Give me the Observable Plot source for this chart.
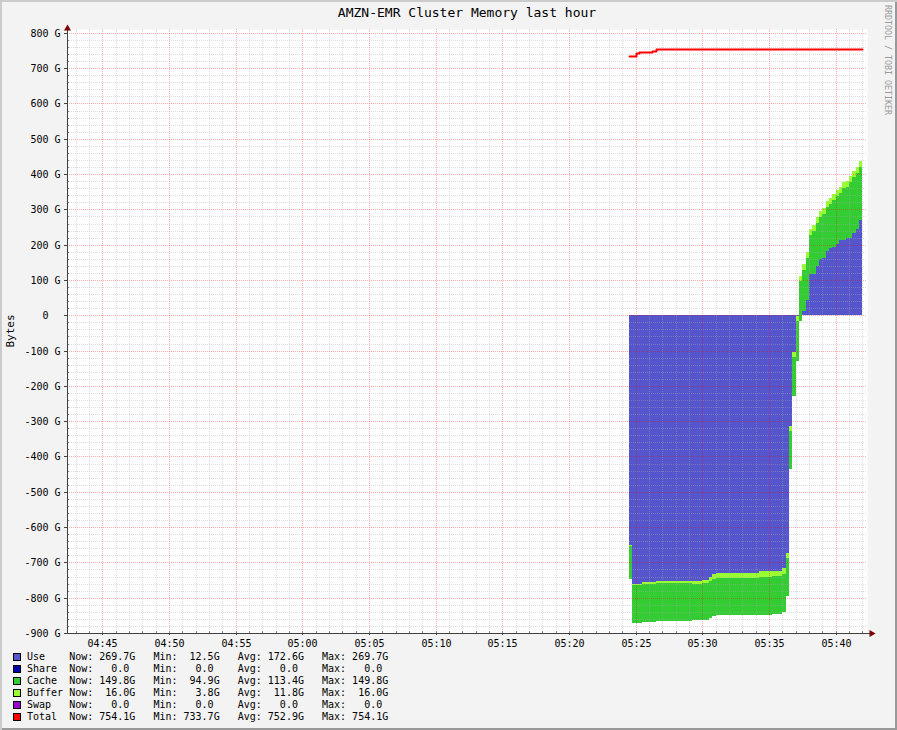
<!DOCTYPE html>
<html><head><meta charset="utf-8">
<script src="https://cdn.jsdelivr.net/npm/d3@7"></script>
<script src="https://cdn.jsdelivr.net/npm/@observablehq/plot@0.6"></script>
<style>
body{margin:0;background:#fff}
#wrap{position:relative;width:897px;height:730px;background:#f3f3f3;box-shadow:inset 2px 2px 0 #cbcbcb, inset -2px -2px 0 #999;overflow:hidden;font-family:"DejaVu Sans Mono",monospace;color:#000}
#title{position:absolute;left:67px;width:800px;top:5px;text-align:center;font-size:13px;line-height:16px;white-space:pre}
#chart{position:absolute;left:0;top:0}
#ylabel{position:absolute;left:11px;top:331px;transform:translate(-50%,-50%) rotate(-90deg);font-size:11px;line-height:12px;white-space:nowrap}
#wm{position:absolute;left:884px;top:5px;writing-mode:vertical-rl;font-size:8.3px;line-height:8px;color:#999;white-space:pre}
#legend{position:absolute;left:13px;top:651px;font-size:10px;line-height:12px}
.row{height:12px;white-space:pre;display:flex;align-items:center}
.sw{width:6px;height:6px;border:1px solid #000;margin-right:6px;flex:none}
</style>
</head><body>
<div id="wrap">
  <div id="chart"></div>
  <div id="title"></div>
  <div id="ylabel"></div>
  <div id="wm"></div>
  <div id="legend"></div>
</div>
<script>
// ---------- data (GB) ----------
const titleText = "AMZN-EMR Cluster Memory last hour";
const yLabel = "Bytes";
const watermark = "RRDTOOL / TOBI OETIKER";

const times = ["05:24:30","05:24:45","05:25:30","05:26:30","05:29:15","05:30:00","05:30:30","05:30:45","05:31:00","05:34:15",
  "05:35:15","05:36:00","05:36:15","05:36:30","05:36:45","05:37:00","05:37:15","05:37:30","05:37:45","05:38:00",
  "05:38:15","05:38:30","05:38:45","05:39:00","05:39:15","05:39:30","05:39:45","05:40:00","05:40:15","05:40:30",
  "05:40:45","05:41:00","05:41:15","05:41:30","05:41:45"];
const endTime = "05:42:00";
const useVals = [-748,-872,-869,-866,-864,-864,-858,-852,-850,-849,
  -847,-841,-796,-436,-229,-130,-17,12,43,117,
  117,140,160,162,182,190,193,201,212,212,
  218,218,233,244,270];
const cacheVals = [94,108,109,108,103,106,105,105,105,108,
  108,108,108,107,110,113,113,116,119,111,
  122,122,119,125,125,125,134,137,135,149,
  146,160,159,159,150];
const bufferVals = [4,4,5,6,8,8,12,14,16,16,
  16,16,16,16,16,16,16,16,16,16,
  16,16,16,16,16,16,16,16,16,16,
  16,16,16,16,16];

const totalTimes = ["05:24:30","05:25:00","05:25:15","05:26:15","05:26:30","05:42:00"];
const totalVals = [734,742,745,749,754.1,754.1];

const yTicks = [-900,-800,-700,-600,-500,-400,-300,-200,-100,0,100,200,300,400,500,600,700,800];
const xTickLabels = ["04:45","04:50","04:55","05:00","05:05","05:10","05:15","05:20","05:25","05:30","05:35","05:40"];

const legendNames = ["Use","Share","Cache","Buffer","Swap","Total"];
const legendColors = ["#5555cc","#0000aa","#33cc33","#99ff33","#9900cc","#ff0000"];
const legendNow = ["269.7G","0.0","149.8G","16.0G","0.0","754.1G"];
const legendMin = ["12.5G","0.0","94.9G","3.8G","0.0","733.7G"];
const legendAvg = ["172.6G","0.0","113.4G","11.8G","0.0","752.9G"];
const legendMax = ["269.7G","0.0","149.8G","16.0G","0.0","754.1G"];

// ---------- build ----------
const parse = s => { const [h,m,sec] = s.split(":").map(Number); return new Date(Date.UTC(2013,0,1,h,m,sec||0)); };
const t0 = parse("04:42:21"), t1 = parse("05:42:21");

const rows = times.map((t,i) => ({t: parse(t), u: useVals[i], c: cacheVals[i], b: bufferVals[i]}));
const last = rows[rows.length-1];
rows.push({...last, t: parse(endTime)});
const totalRows = totalTimes.map((t,i) => ({t: parse(t), v: totalVals[i]}));

const allMinutes = d3.utcMinute.range(d3.utcMinute.ceil(t0), t1);
const minorX = allMinutes.filter(d => d.getUTCMinutes() % 5 !== 0);
const majorX = xTickLabels.map(parse);
const minorY = d3.range(-900, 801, 20).filter(v => v % 100 !== 0);

const axisColor = "#404040";
const plot = Plot.plot({
  width: 897, height: 660,
  marginTop: 29, marginBottom: 27, marginLeft: 67, marginRight: 30,
  style: {fontFamily: "DejaVu Sans Mono", fontSize: "10px", background: "transparent", color: "#000", overflow: "visible"},
  x: {type: "utc", domain: [t0, t1], round: true},
  y: {domain: [-900, 811], round: true},
  marks: [
    Plot.frame({fill: "#fff", stroke: "none"}),
    Plot.areaY(rows, {x: "t", y: "u", curve: "step-after", fill: legendColors[0], shapeRendering: "crispEdges"}),
    Plot.areaY(rows, {x: "t", y1: d => d.u, y2: d => d.u + d.c, curve: "step-after", fill: legendColors[2], shapeRendering: "crispEdges"}),
    Plot.areaY(rows, {x: "t", y1: d => d.u + d.c, y2: d => d.u + d.c + d.b, curve: "step-after", fill: legendColors[3], shapeRendering: "crispEdges"}),
    Plot.gridX(minorX, {stroke: "#aaa", strokeOpacity: 0.4, strokeDasharray: "1,1"}),
    Plot.gridY(minorY, {stroke: "#aaa", strokeOpacity: 0.4, strokeDasharray: "1,1"}),
    Plot.gridX(majorX, {stroke: "#ff0000", strokeOpacity: 0.32, strokeDasharray: "1,1"}),
    Plot.gridY(yTicks, {stroke: "#ff0000", strokeOpacity: 0.32, strokeDasharray: "1,1"}),
    Plot.line(totalRows, {x: "t", y: "v", curve: "step-after", stroke: legendColors[5], strokeWidth: 2}),
    Plot.tickY(minorY, {y: d => d, insetRight: 798, stroke: "#888"}),
    Plot.tickX(allMinutes, {x: d => d, insetTop: 602, stroke: "#888"}),
    Plot.axisY(yTicks, {tickFormat: d => d === 0 ? "0\u00a0\u00a0" : d + " G", tickSize: 3, tickPadding: 4, stroke: axisColor, fill: "#000", label: null}),
    Plot.axisX(majorX, {tickFormat: d3.utcFormat("%H:%M"), tickSize: 2, tickPadding: 4, stroke: axisColor, fill: "#000", label: null}),
    Plot.ruleX([t0], {stroke: axisColor, insetTop: -2}),
    Plot.ruleY([-900], {stroke: axisColor, insetRight: -3}),
    Plot.dot([0], {x: () => t0, y: () => 811, symbol: "triangle", r: 2.6, fill: "#7f0000", stroke: "none", dy: -1}),
    Plot.dot([0], {x: () => t1, y: () => -900, symbol: "triangle", rotate: 90, r: 2.6, fill: "#7f0000", stroke: "none", dx: 4})
  ]
});
document.getElementById("chart").append(plot);
document.getElementById("title").textContent = titleText;
document.getElementById("ylabel").textContent = yLabel;
document.getElementById("wm").textContent = watermark;

const f = v => v.endsWith("G") ? v.padStart(7) : (v + " ").padStart(7);
const leg = document.getElementById("legend");
legendNames.forEach((n, i) => {
  const row = document.createElement("div");
  row.className = "row";
  const sw = document.createElement("span");
  sw.className = "sw";
  sw.style.background = legendColors[i];
  const tx = document.createElement("span");
  tx.textContent = n.padEnd(7) + "Now:" + f(legendNow[i]) + "   Min:" + f(legendMin[i]) + "   Avg:" + f(legendAvg[i]) + "   Max:" + f(legendMax[i]);
  row.append(sw, tx);
  leg.append(row);
});
</script>
</body></html>
